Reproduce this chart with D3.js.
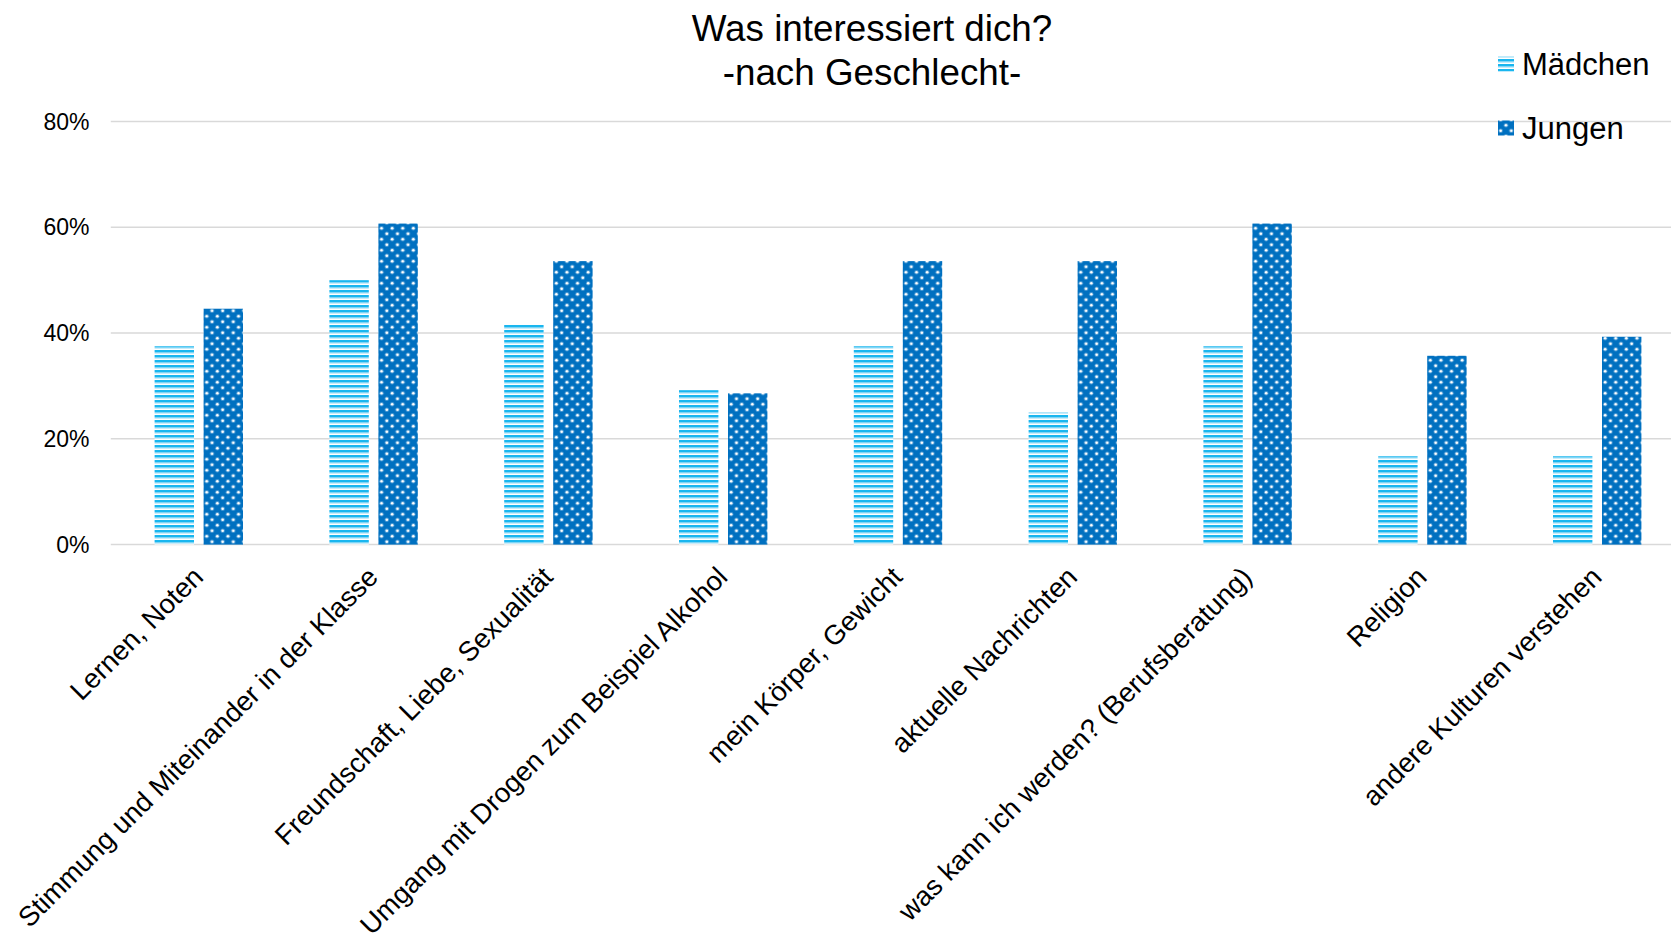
<!DOCTYPE html>
<html>
<head>
<meta charset="utf-8">
<script src="https://cdn.jsdelivr.net/npm/d3@7"></script>
<style>
  body { margin: 0; background: #fff; }
  svg { display: block; font-family: "Liberation Sans", Arial, sans-serif; }
  .grid line { stroke: #d9d9d9; stroke-width: 1.5; }
  .tick-label { font-size: 23px; fill: #000; }
  .cat-label { font-size: 27.5px; fill: #000; }
  .title { font-size: 36.8px; fill: #000; }
  .legend-text { font-size: 31px; fill: #000; }
</style>
</head>
<body>
<div id="chart"></div>
<script>
//////////////////////////////////////////////////////////////
//////////////////////////// Data ////////////////////////////
//////////////////////////////////////////////////////////////
var categories = [
  "Lernen, Noten",
  "Stimmung und Miteinander in der Klasse",
  "Freundschaft, Liebe, Sexualität",
  "Umgang mit Drogen zum Beispiel Alkohol",
  "mein Körper, Gewicht",
  "aktuelle Nachrichten",
  "was kann ich werden? (Berufsberatung)",
  "Religion",
  "andere Kulturen verstehen"
];
var seriesNames = ["Mädchen", "Jungen"];
var maedchen = [0.375, 0.50, 0.417, 0.292, 0.375, 0.25, 0.375, 0.167, 0.167];
var jungen = [0.446, 0.607, 0.536, 0.286, 0.536, 0.536, 0.607, 0.357, 0.393];
var yTicks = [0, 0.2, 0.4, 0.6, 0.8];
var titleLines = ["Was interessiert dich?", "-nach Geschlecht-"];

var data = categories.map(function(c, i) {
  return { cat: c, values: [ { s: "Mädchen", v: maedchen[i] }, { s: "Jungen", v: jungen[i] } ] };
});

//////////////////////////////////////////////////////////////
/////////////////////////// SVG //////////////////////////////
//////////////////////////////////////////////////////////////
var width = 1671, height = 941;
var svg = d3.select("#chart").append("svg")
  .attr("width", width)
  .attr("height", height);

// patterns
var defs = svg.append("defs");

var stripes = defs.append("pattern")
  .attr("id", "stripes")
  .attr("patternUnits", "userSpaceOnUse")
  .attr("width", 8).attr("height", 5);
stripes.append("rect").attr("width", 8).attr("height", 5).attr("fill", "#ffffff");
stripes.append("rect").attr("width", 8).attr("height", 2.6).attr("fill", "#19b6ef");
stripes.append("rect").attr("y", 2.6).attr("width", 8).attr("height", 0.9).attr("fill", "#8fd9f6");

var dots = defs.append("pattern")
  .attr("id", "dots")
  .attr("patternUnits", "userSpaceOnUse")
  .attr("width", 10.6).attr("height", 11);
dots.append("rect").attr("width", 10.6).attr("height", 11).attr("fill", "#0070c0");
[[2.65, 2.75], [7.95, 8.25]].forEach(function(p) {
  dots.append("circle").attr("cx", p[0]).attr("cy", p[1]).attr("r", 2.2).attr("fill", "#7fb5e0").attr("opacity", 0.6);
  dots.append("circle").attr("cx", p[0]).attr("cy", p[1]).attr("r", 1.3).attr("fill", "#ffffff");
});

var fills = { "Mädchen": "url(#stripes)", "Jungen": "url(#dots)" };

//////////////////////////////////////////////////////////////
////////////////////////// Scales ////////////////////////////
//////////////////////////////////////////////////////////////
var x = d3.scaleBand()
  .domain(categories)
  .range([111.4, 1684.6]);

var xInner = d3.scaleBand()
  .domain(seriesNames)
  .range([-44.2, 44.2])
  .paddingInner(0.196);

var y = d3.scaleLinear()
  .domain([0, 0.8])
  .range([544.6, 121.5]);

//////////////////////////////////////////////////////////////
/////////////////////////// Grid /////////////////////////////
//////////////////////////////////////////////////////////////
var grid = svg.append("g").attr("class", "grid");
grid.selectAll("line")
  .data(yTicks)
  .enter().append("line")
  .attr("x1", 110.8)
  .attr("x2", width)
  .attr("y1", function(d) { return y(d); })
  .attr("y2", function(d) { return y(d); });

svg.selectAll(".tick-label")
  .data(yTicks)
  .enter().append("text")
  .attr("class", "tick-label")
  .attr("x", 89.5)
  .attr("y", function(d) { return y(d); })
  .attr("dy", "0.35em")
  .attr("text-anchor", "end")
  .text(d3.format(".0%"));

//////////////////////////////////////////////////////////////
/////////////////////////// Bars /////////////////////////////
//////////////////////////////////////////////////////////////
var groups = svg.selectAll(".cat-group")
  .data(data)
  .enter().append("g")
  .attr("class", "cat-group")
  .attr("transform", function(d) { return "translate(" + (x(d.cat) + x.bandwidth() / 2) + ",0)"; });

groups.selectAll("rect")
  .data(function(d) { return d.values; })
  .enter().append("rect")
  .attr("x", function(d) { return xInner(d.s); })
  .attr("width", xInner.bandwidth())
  .attr("y", function(d) { return y(d.v); })
  .attr("height", function(d) { return y(0) - y(d.v); })
  .attr("fill", function(d) { return fills[d.s]; });

// category labels, rotated
svg.selectAll(".cat-label")
  .data(categories)
  .enter().append("text")
  .attr("class", "cat-label")
  .attr("text-anchor", "end")
  .attr("transform", function(d) {
    return "translate(" + (x(d) + x.bandwidth() / 2 + 6) + "," + (y(0) + 34) + ") rotate(-45)";
  })
  .text(function(d) { return d; });

//////////////////////////////////////////////////////////////
////////////////////////// Title /////////////////////////////
//////////////////////////////////////////////////////////////
svg.selectAll(".title")
  .data(titleLines)
  .enter().append("text")
  .attr("class", "title")
  .attr("x", 872)
  .attr("y", function(d, i) { return 41 + i * 43.7; })
  .attr("text-anchor", "middle")
  .text(function(d) { return d; });

//////////////////////////////////////////////////////////////
////////////////////////// Legend ////////////////////////////
//////////////////////////////////////////////////////////////
var legend = svg.selectAll(".legend-item")
  .data(seriesNames)
  .enter().append("g")
  .attr("class", "legend-item")
  .attr("transform", function(d, i) { return "translate(1498," + (64 + i * 64) + ")"; });

legend.append("rect")
  .attr("x", 0)
  .attr("y", -7.5)
  .attr("width", 16)
  .attr("height", 15)
  .attr("fill", function(d) { return fills[d]; });

legend.append("text")
  .attr("class", "legend-text")
  .attr("x", 24)
  .attr("dy", "0.35em")
  .text(function(d) { return d; });
</script>
</body>
</html>
